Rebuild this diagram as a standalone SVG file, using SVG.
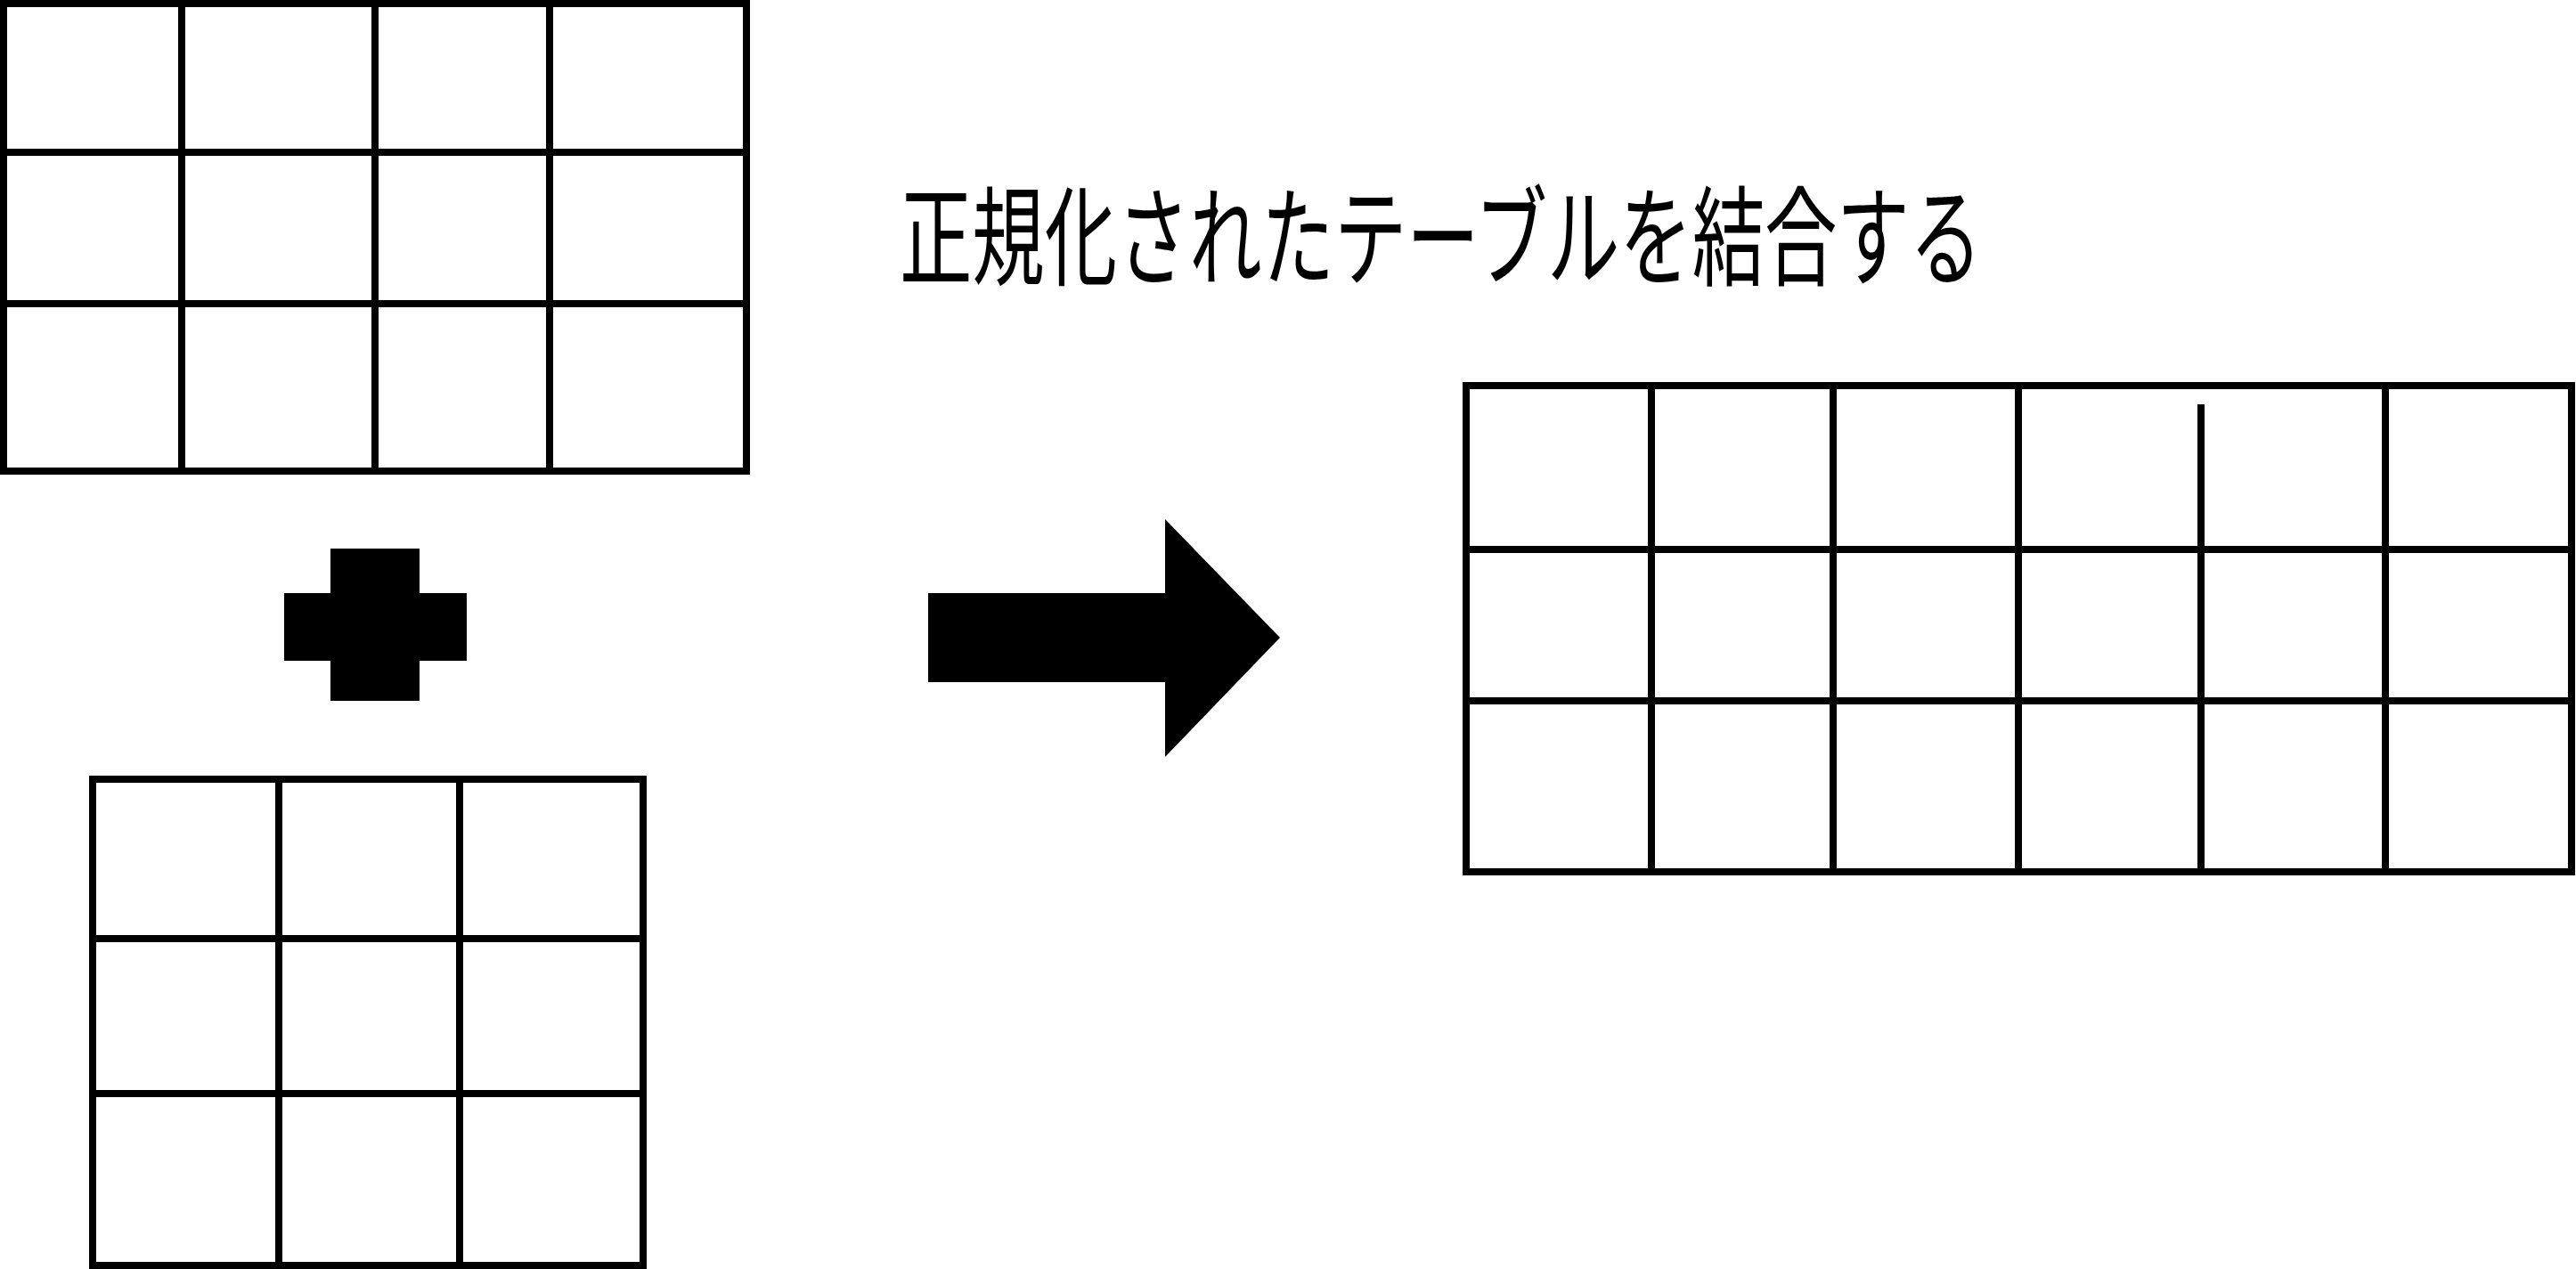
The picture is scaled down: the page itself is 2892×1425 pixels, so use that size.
<svg xmlns="http://www.w3.org/2000/svg" width="2892" height="1425" viewBox="0 0 2892 1425">
<style>
.tbl{fill:none;stroke:#000;stroke-width:8}
.ln{stroke:#000;stroke-width:8;fill:none}
.solid{fill:#000;stroke:none}
.lbl{font-family:"Noto Sans CJK JP","Noto Sans CJK SC",sans-serif;font-size:122px;fill:#000}
</style>
<rect x="0" y="0" width="2892" height="1425" fill="#fff"/>
<g id="table-a">
<rect class="tbl" x="4" y="4" width="834" height="525"/>
<line class="ln" x1="204" y1="4" x2="204" y2="529"/>
<line class="ln" x1="421" y1="4" x2="421" y2="529"/>
<line class="ln" x1="617" y1="4" x2="617" y2="529"/>
<line class="ln" x1="4" y1="171" x2="838" y2="171"/>
<line class="ln" x1="4" y1="341" x2="838" y2="341"/>
</g>
<g id="plus">
<polygon class="solid" points="371,616 471,616 471,666 524,666 524,742 471,742 471,787 371,787 371,742 319,742 319,666 371,666"/>
</g>
<g id="table-b">
<rect class="tbl" x="104" y="875" width="618" height="546"/>
<line class="ln" x1="313" y1="875" x2="313" y2="1421"/>
<line class="ln" x1="516" y1="875" x2="516" y2="1421"/>
<line class="ln" x1="104" y1="1054" x2="722" y2="1054"/>
<line class="ln" x1="104" y1="1228" x2="722" y2="1228"/>
</g>
<g id="connectors">
<polygon id="arrow" class="solid" points="1042,666 1308,666 1308,583 1437,716 1308,850 1308,766 1042,766"/>
</g>
<g id="title">
<text class="lbl" x="1010" y="311" textLength="1215" lengthAdjust="spacingAndGlyphs">正規化されたテーブルを結合する</text>
</g>
<g id="table-joined">
<rect class="tbl" x="1646" y="433" width="1241" height="546"/>
<line class="ln" x1="1854" y1="433" x2="1854" y2="979"/>
<line class="ln" x1="2058" y1="433" x2="2058" y2="979"/>
<line class="ln" x1="2266" y1="433" x2="2266" y2="979"/>
<line class="ln" x1="2471" y1="454" x2="2471" y2="979"/>
<line class="ln" x1="2678" y1="433" x2="2678" y2="979"/>
<line class="ln" x1="1646" y1="617" x2="2887" y2="617"/>
<line class="ln" x1="1646" y1="787" x2="2887" y2="787"/>
</g>
</svg>
